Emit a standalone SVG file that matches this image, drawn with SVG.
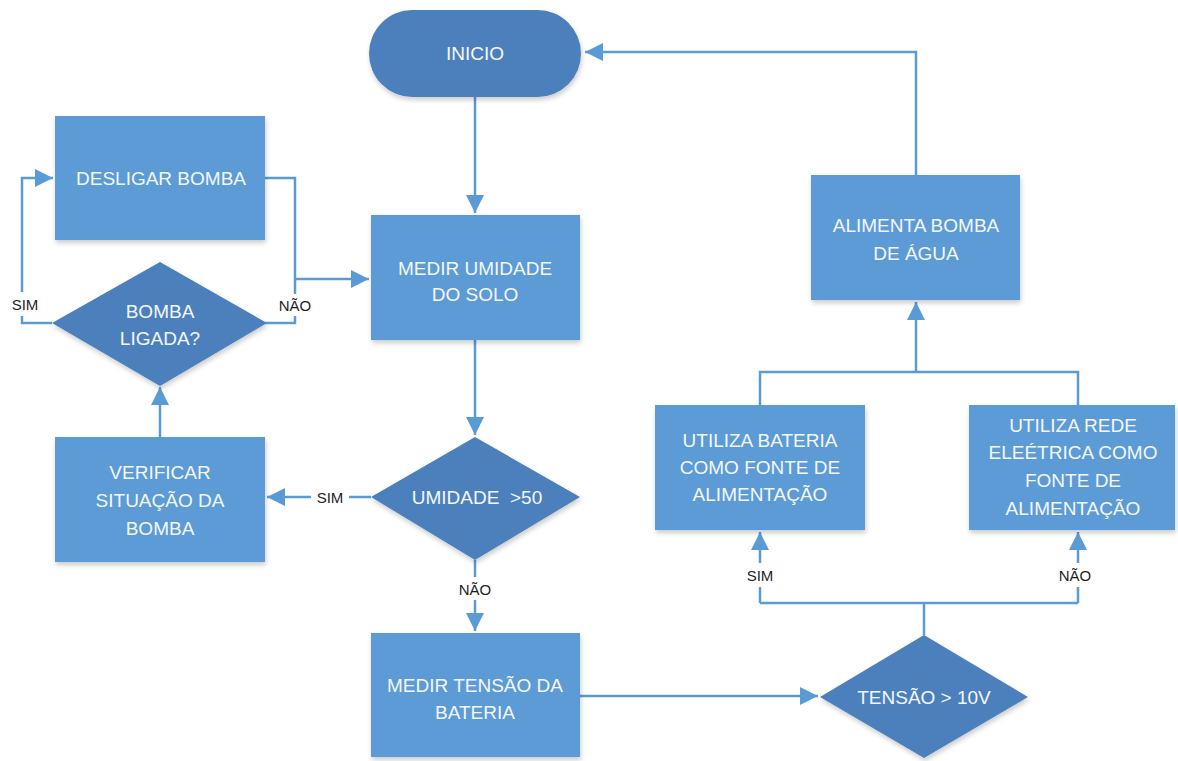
<svg xmlns="http://www.w3.org/2000/svg" width="1178" height="761" viewBox="0 0 1178 761">
<style>
.box{fill:#5B9BD5;}
.dec{fill:#4C80BC;}
.t{font-family:"Liberation Sans",Arial,sans-serif;font-size:19px;fill:#F4F7FB;text-anchor:middle;dominant-baseline:central;}
.lbl{font-family:"Liberation Sans",Arial,sans-serif;font-size:15px;fill:#1E1E1E;text-anchor:middle;dominant-baseline:central;}
.ln{fill:none;stroke:#5B9BD5;stroke-width:2.5;}
</style>
<defs>
<marker id="ah" markerUnits="userSpaceOnUse" markerWidth="20" markerHeight="20" refX="18" refY="9" orient="auto">
<path d="M0,0 L18,9 L0,18 Z" fill="#5B9BD5"/>
</marker>
<filter id="sh" x="-10%" y="-10%" width="130%" height="130%">
<feDropShadow dx="1" dy="3" stdDeviation="2.5" flood-color="#000" flood-opacity="0.2"/>
</filter>
</defs>
<rect width="1178" height="761" fill="#FFFFFF"/>
<g id="connectors">
<path class="ln" d="M475,97 V213" marker-end="url(#ah)"/>
<path class="ln" d="M475,340 V435" marker-end="url(#ah)"/>
<path class="ln" d="M371,497 H349"/>
<path class="ln" d="M311,497 H267" marker-end="url(#ah)"/>
<path class="ln" d="M160,437 V387" marker-end="url(#ah)"/>
<path class="ln" d="M52,323 H22 V316"/>
<path class="ln" d="M22,292 V178 H53" marker-end="url(#ah)"/>
<path class="ln" d="M265,178 H295 V294"/>
<path class="ln" d="M295,316 V323 H265"/>
<path class="ln" d="M295,279 H369" marker-end="url(#ah)"/>
<path class="ln" d="M475,560 V577"/>
<path class="ln" d="M475,600 V631" marker-end="url(#ah)"/>
<path class="ln" d="M580,696 H818" marker-end="url(#ah)"/>
<path class="ln" d="M924,635 V603"/>
<path class="ln" d="M760,603 H1078"/>
<path class="ln" d="M760,603 V587"/>
<path class="ln" d="M760,563 V532" marker-end="url(#ah)"/>
<path class="ln" d="M1078,603 V587"/>
<path class="ln" d="M1078,563 V532" marker-end="url(#ah)"/>
<path class="ln" d="M760,405 V372 H1078 V405"/>
<path class="ln" d="M916,372 V302" marker-end="url(#ah)"/>
<path class="ln" d="M916,175 V52 H585" marker-end="url(#ah)"/>
<text class="lbl" x="25" y="304">SIM</text>
<text class="lbl" x="295" y="305">NÃO</text>
<text class="lbl" x="330" y="497">SIM</text>
<text class="lbl" x="475" y="589">NÃO</text>
<text class="lbl" x="760" y="575">SIM</text>
<text class="lbl" x="1075" y="575">NÃO</text>
</g>
<g id="inicio">
<rect class="dec" x="369" y="10" width="212" height="87" rx="43.5" ry="43.5" filter="url(#sh)"/>
<text class="t" x="475" y="53">INICIO</text>
</g>
<g id="medir-umidade">
<rect class="box" x="371" y="215" width="209" height="125" filter="url(#sh)"/>
<text class="t" x="475" y="268">MEDIR UMIDADE</text>
<text class="t" x="475" y="294">DO SOLO</text>
</g>
<g id="desligar-bomba">
<rect class="box" x="55" y="116" width="210" height="124" filter="url(#sh)"/>
<text class="t" x="161" y="178">DESLIGAR BOMBA</text>
</g>
<g id="bomba-ligada">
<polygon class="dec" points="160,262 267,323 160,386 52,323" filter="url(#sh)"/>
<text class="t" x="160" y="311">BOMBA</text>
<text class="t" x="160" y="338">LIGADA?</text>
</g>
<g id="verificar">
<rect class="box" x="55" y="437" width="210" height="125" filter="url(#sh)"/>
<text class="t" x="160" y="472">VERIFICAR</text>
<text class="t" x="160" y="500">SITUAÇÃO DA</text>
<text class="t" x="160" y="528">BOMBA</text>
</g>
<g id="umidade-50">
<polygon class="dec" points="475,437 580,497 475,560 371,497" filter="url(#sh)"/>
<text class="t" x="477" y="497" xml:space="preserve" style="white-space:pre">UMIDADE  &gt;50</text>
</g>
<g id="medir-tensao">
<rect class="box" x="371" y="633" width="209" height="124" filter="url(#sh)"/>
<text class="t" x="475" y="685">MEDIR TENSÃO DA</text>
<text class="t" x="475" y="712">BATERIA</text>
</g>
<g id="tensao-10v">
<polygon class="dec" points="924,635 1028,697 924,758 820,697" filter="url(#sh)"/>
<text class="t" x="924" y="697">TENSÃO &gt; 10V</text>
</g>
<g id="utiliza-bateria">
<rect class="box" x="655" y="405" width="210" height="125" filter="url(#sh)"/>
<text class="t" x="760" y="440">UTILIZA BATERIA</text>
<text class="t" x="760" y="467">COMO FONTE DE</text>
<text class="t" x="760" y="494">ALIMENTAÇÃO</text>
</g>
<g id="utiliza-rede">
<rect class="box" x="969" y="405" width="206" height="125" filter="url(#sh)"/>
<text class="t" x="1073" y="425">UTILIZA REDE</text>
<text class="t" x="1073" y="452">ELEÉTRICA COMO</text>
<text class="t" x="1073" y="480">FONTE DE</text>
<text class="t" x="1073" y="508">ALIMENTAÇÃO</text>
</g>
<g id="alimenta-bomba">
<rect class="box" x="811" y="175" width="209" height="125" filter="url(#sh)"/>
<text class="t" x="916" y="225">ALIMENTA BOMBA</text>
<text class="t" x="916" y="253">DE ÁGUA</text>
</g>
</svg>
